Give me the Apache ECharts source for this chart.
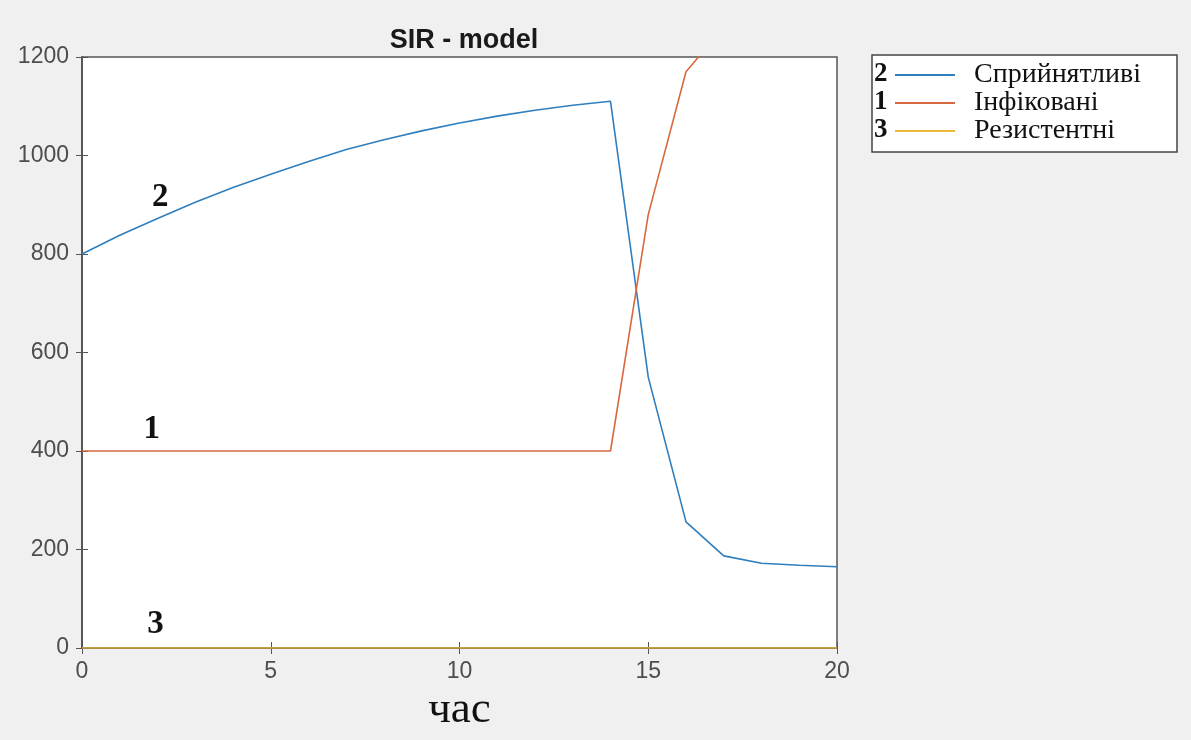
<!DOCTYPE html>
<html lang="uk">
<head>
<meta charset="UTF-8">
<title>SIR - model</title>
<script src="https://cdn.jsdelivr.net/npm/echarts@6/dist/echarts.min.js"></script>
<style>
  html, body { margin: 0; padding: 0; background: #f0f0f0; }
  #main { width: 1191px; height: 740px; }
</style>
</head>
<body>
<div id="main"></div>
<script>
// час (time steps)
var time = [0, 1, 2, 3, 4, 5, 6, 7, 8, 9, 10, 11, 12, 13, 14, 15, 16, 17, 18, 19, 20];
// 2 - сприйнятливі
var susceptible = [800, 838, 872, 905, 935, 962, 988, 1012, 1032, 1050, 1066, 1080, 1092, 1102, 1110, 550, 256, 187, 172, 168, 165];
// 1 - інфіковані (above 1200 is cut off by the axis)
var infected = [400, 400, 400, 400, 400, 400, 400, 400, 400, 400, 400, 400, 400, 400, 400, 880, 1170, 1260, 1290, 1300, 1305];
// 3 - резистентні
var resistant = [0, 0, 0, 0, 0, 0, 0, 0, 0, 0, 0, 0, 0, 0, 0, 0, 0, 0, 0, 0, 0];

var names = ['Сприйнятливі', 'Інфіковані', 'Резистентні'];
var numbers = ['2', '1', '3'];
var colors = ['#2f7fbf', '#d8693f', '#ecb83a'];
var xTicks = [0, 20, 5];     // min, max, interval
var yTicks = [0, 1200, 200];

function pairs(ys) {
    return time.map(function (t, i) { return [t, ys[i]]; });
}

var myChart = echarts.init(document.getElementById('main'));

var axisGray = '#555';
var tickFont = { fontFamily: 'Liberation Sans', fontSize: 23, color: '#4d4d4d' };

function lineSeries(idx, ys, label, lx, ly) {
    return {
        name: names[idx],
        type: 'line',
        data: pairs(ys),
        symbol: 'none',
        z: 5,
        lineStyle: { color: colors[idx], width: 1.6 },
        itemStyle: { color: colors[idx] },
        markPoint: {
            symbol: 'circle',
            symbolSize: 0,
            silent: true,
            data: [{ coord: [lx, ly], value: label }],
            label: {
                show: true,
                formatter: label,
                fontFamily: 'Liberation Serif',
                fontWeight: 'bold',
                fontSize: 33,
                color: '#111'
            }
        }
    };
}

var option = {
    backgroundColor: '#f0f0f0',
    animation: false,
    title: {
        text: 'SIR - model',
        left: 459,
        textAlign: 'center',
        top: 22,
        textStyle: { fontFamily: 'Liberation Sans', fontWeight: 'bold', fontSize: 27, color: '#1a1a1a' }
    },
    grid: {
        left: 82, right: 354, top: 57, bottom: 92,
        show: true, backgroundColor: '#ffffff', borderColor: axisGray, borderWidth: 1.5
    },
    legend: {
        data: names,
        orient: 'vertical',
        left: 895,
        top: 61,
        padding: 0,
        itemGap: 0,
        itemWidth: 60,
        itemHeight: 2,
        icon: 'rect',
        textStyle: {
            fontFamily: 'Liberation Serif', fontSize: 28, color: '#111',
            lineHeight: 28, padding: [0, 0, 0, 14]
        }
    },
    graphic: [
        {
            type: 'rect', z: 1,
            shape: { x: 872, y: 55, width: 305, height: 97 },
            style: { fill: '#fff', stroke: '#444', lineWidth: 1.5 }
        },
        { type: 'text', z: 10, left: 874, top: 61, style: { text: numbers[0], font: 'bold 27px "Liberation Serif"', fill: '#111' } },
        { type: 'text', z: 10, left: 874, top: 89, style: { text: numbers[1], font: 'bold 27px "Liberation Serif"', fill: '#111' } },
        { type: 'text', z: 10, left: 874, top: 117, style: { text: numbers[2], font: 'bold 27px "Liberation Serif"', fill: '#111' } }
    ],
    xAxis: [
        {
            type: 'value', position: 'bottom',
            min: xTicks[0], max: xTicks[1], interval: xTicks[2],
            name: 'час', nameLocation: 'middle', nameGap: 30,
            nameTextStyle: { fontFamily: 'Liberation Serif', fontSize: 45, color: '#111' },
            axisLine: { show: true, lineStyle: { color: axisGray, width: 1.5 } },
            axisTick: { show: true, inside: true, length: 6, lineStyle: { color: axisGray } },
            axisLabel: Object.assign({ margin: 12, formatter: function (v) { return String(v); } }, tickFont),
            splitLine: { show: false }
        },
        {
            type: 'value', position: 'top',
            min: xTicks[0], max: xTicks[1], interval: xTicks[2],
            axisLine: { show: true, lineStyle: { color: axisGray, width: 1.5 } },
            axisTick: { show: true, inside: true, length: 6, lineStyle: { color: axisGray } },
            axisLabel: { show: false },
            splitLine: { show: false }
        }
    ],
    yAxis: [
        {
            type: 'value', position: 'left',
            min: yTicks[0], max: yTicks[1], interval: yTicks[2],
            axisLine: { show: true, lineStyle: { color: axisGray, width: 1.5 } },
            axisTick: { show: true, inside: true, length: 6, lineStyle: { color: axisGray } },
            axisLabel: Object.assign({ margin: 13, formatter: function (v) { return String(v); } }, tickFont),
            splitLine: { show: false }
        },
        {
            type: 'value', position: 'right',
            min: yTicks[0], max: yTicks[1], interval: yTicks[2],
            axisLine: { show: true, lineStyle: { color: axisGray, width: 1.5 } },
            axisTick: { show: true, inside: true, length: 6, lineStyle: { color: axisGray } },
            axisLabel: { show: false },
            splitLine: { show: false }
        }
    ],
    series: [
        lineSeries(0, susceptible, numbers[0], 2.07, 915),
        lineSeries(1, infected, numbers[1], 1.85, 443),
        lineSeries(2, resistant, numbers[2], 1.95, 47)
    ]
};

myChart.setOption(option);
</script>
</body>
</html>
